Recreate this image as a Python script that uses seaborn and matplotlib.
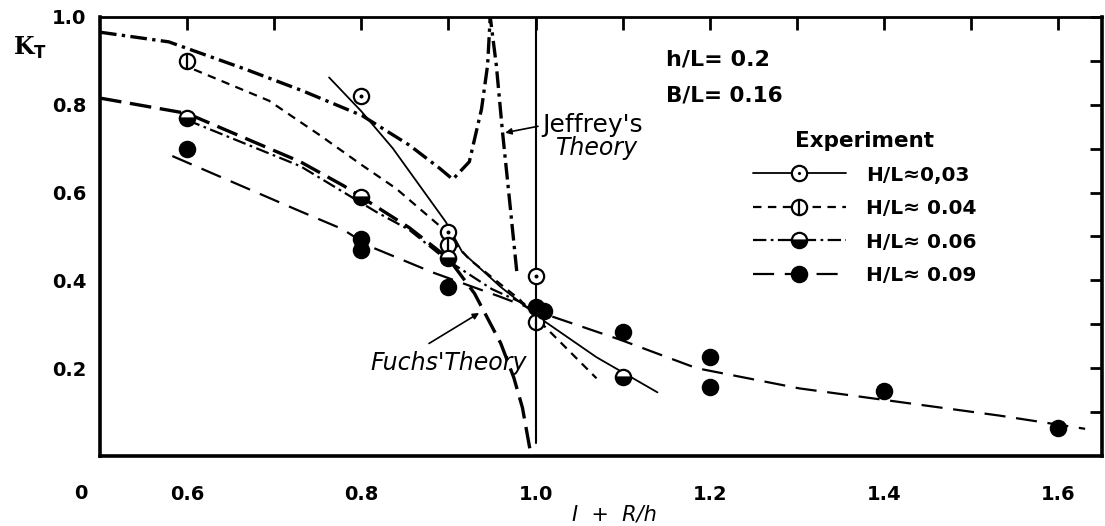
import matplotlib
matplotlib.use("Agg")
import matplotlib.pyplot as plt
from matplotlib.lines import Line2D
from matplotlib.legend_handler import HandlerTuple
import seaborn as sns
import pandas as pd

sns.set_style("white")
plt.rcParams['font.family'] = ['DejaVu Sans']
plt.rcParams.update({"text.color": "black", "axes.labelcolor": "black",
                     "xtick.color": "black", "ytick.color": "black"})

# ---------------- data ----------------
# experimental points
x03 = [0.8, 0.9, 1.0]
y03 = [0.82, 0.51, 0.41]
x04 = [0.6, 0.9, 1.0]
y04 = [0.90, 0.48, 0.305]
x06 = [0.6, 0.8, 0.9, 1.1]
y06 = [0.77, 0.59, 0.45, 0.18]
x09 = [0.6, 0.8, 0.8, 0.9, 1.0, 1.01, 1.1, 1.2, 1.2, 1.4, 1.6]
y09 = [0.70, 0.495, 0.47, 0.385, 0.34, 0.33, 0.283, 0.225, 0.157, 0.149, 0.064]

# hand-drawn fit curves
c03_x = [0.763, 0.80, 0.836, 0.897, 0.916, 0.96, 1.008, 1.07, 1.14]
c03_y = [0.862, 0.785, 0.701, 0.533, 0.464, 0.385, 0.31, 0.225, 0.145]
c04_x = [0.608, 0.694, 0.752, 0.801, 0.84, 0.89, 0.924, 0.982, 1.008, 1.07]
c04_y = [0.88, 0.809, 0.731, 0.662, 0.609, 0.524, 0.448, 0.356, 0.30, 0.177]
c06_x = [0.60, 0.73, 0.817, 0.855, 0.897, 0.95, 1.0]
c06_y = [0.765, 0.66, 0.556, 0.515, 0.448, 0.38, 0.335]
c09_x = [0.583, 0.729, 0.778, 0.809, 0.882, 0.959, 1.02, 1.097, 1.185, 1.303, 1.407, 1.533, 1.631]
c09_y = [0.683, 0.558, 0.517, 0.478, 0.418, 0.363, 0.317, 0.265, 0.20, 0.154, 0.126, 0.092, 0.062]

# theories
jef_x = [0.50, 0.579, 0.668, 0.732, 0.801, 0.855, 0.890, 0.905, 0.924, 0.938, 0.945, 0.948, 0.955, 0.962, 0.970, 0.979]
jef_y = [0.965, 0.943, 0.88, 0.832, 0.775, 0.708, 0.655, 0.63, 0.67, 0.79, 0.89, 1.0, 0.89, 0.74, 0.586, 0.41]
fuc_x = [0.50, 0.60, 0.73, 0.78, 0.855, 0.90, 0.93, 0.96, 0.975, 0.985, 0.995]
fuc_y = [0.815, 0.78, 0.67, 0.615, 0.52, 0.45, 0.37, 0.257, 0.179, 0.11, 0.0]

x_ticklabels = ["0.6", "", "0.8", "", "1.0", "", "1.2", "", "1.4", "", "1.6"]
y_ticklabels = ["", "0.2", "", "0.4", "", "0.6", "", "0.8", "", "1.0"]
labels = ["H/L\u22480,03", "H/L\u2248 0.04", "H/L\u2248 0.06", "H/L\u2248 0.09"]

# ---------------- figure ----------------
fig = plt.figure(figsize=(11.05, 5.26), dpi=100)
ax = fig.add_axes([0.0905, 0.133, 0.9065, 0.835])

K = "black"

def curve(x, y, lw, ls):
    sns.lineplot(x=x, y=y, ax=ax, sort=False, estimator=None, color=K,
                 lw=lw, linestyle=ls)

curve(jef_x, jef_y, 2.4, (0, (5, 1.6, 1.0, 1.6)))
curve(fuc_x, fuc_y, 2.4, (0, (6.5, 2.6)))
curve(c03_x, c03_y, 1.3, "-")
curve(c04_x, c04_y, 1.6, (0, (3.8, 2.9)))
curve(c06_x, c06_y, 1.6, (0, (6, 2, 1.2, 2)))
curve(c09_x, c09_y, 1.6, (0, (9.5, 4.8)))

ax.axvline(1.0, ymin=0.03, ymax=1.0, color=K, lw=1.5)

ms = 11
mew = 1.6

def pts(x, y, size=ms, **kw):
    sns.lineplot(x=x, y=y, ax=ax, sort=False, estimator=None, linestyle="",
                 color=K, markersize=size, markeredgewidth=mew,
                 markeredgecolor=K, **kw)

pts(x03, y03, marker="o", markerfacecolor="white")
pts(x03, y03, size=2.5, marker=".", markerfacecolor=K)
pts(x04, y04, marker="o", markerfacecolor="white")
pts(x04, y04, marker="|")
pts(x06, y06, marker="o", fillstyle="bottom", markerfacecolor=K,
    markerfacecoloralt="white")
pts(x09, y09, marker="o", markerfacecolor=K)

# ---------------- axes styling ----------------
ax.set_xlim(0.5, 1.65)
ax.set_ylim(0.0, 1.0)
ax.set_xticks([0.6 + 0.1 * i for i in range(11)])
ax.set_xticklabels(x_ticklabels)
ax.set_yticks([0.1 * i for i in range(1, 11)])
ax.set_yticklabels(y_ticklabels)
ax.tick_params(axis="both", direction="in", length=9, width=2, top=True,
               right=True, colors=K)
ax.tick_params(axis="x", pad=21, labelsize=14)
ax.tick_params(axis="y", pad=10, labelsize=14)
for t in ax.get_xticklabels() + ax.get_yticklabels():
    t.set_fontweight("bold")
for s in ["left", "bottom", "right"]:
    ax.spines[s].set_linewidth(2.6)
ax.spines["top"].set_linewidth(2.0)
for s in ax.spines.values():
    s.set_color(K)

ax.set_xlabel("I  +  R/h", fontsize=15, style="italic")
ax.xaxis.set_label_coords(0.514, -0.11)
ax.set_ylabel("K$_\\mathbf{T}$", fontsize=17, fontweight="bold",
              family="DejaVu Serif", rotation=0)
ax.yaxis.set_label_coords(-0.07, 0.90)
ax.text(-0.012, -0.085, "0", transform=ax.transAxes, fontsize=14,
        fontweight="bold", ha="right", va="center")

# ---------------- annotations ----------------
ax.text(1.15, 0.903, "h/L= 0.2", fontsize=16, fontweight="bold", va="center")
ax.text(1.15, 0.820, "B/L= 0.16", fontsize=15.5, fontweight="bold", va="center")
ax.text(1.008, 0.754, "Jeffrey's", fontsize=18, va="center")
ax.text(1.024, 0.701, "Theory", fontsize=17, style="italic", va="center")
ax.annotate("", xy=(0.962, 0.735), xytext=(1.006, 0.752),
            arrowprops=dict(arrowstyle="-|>", lw=1.2, color=K, mutation_scale=9))
ax.text(0.90, 0.211, "Fuchs'Theory", fontsize=17, style="italic",
        ha="center", va="center")
ax.annotate("", xy=(0.938, 0.329), xytext=(0.875, 0.253),
            arrowprops=dict(arrowstyle="-|>", lw=1.2, color=K, mutation_scale=9))

# ---------------- legend ----------------
h03 = (Line2D([], [], color=K, lw=1.3, ls="-", marker="o", ms=ms, mew=mew,
              mfc="white", mec=K),
       Line2D([], [], ls="", marker=".", ms=2.5, color=K))
h04 = (Line2D([], [], color=K, lw=1.6, ls=(0, (3.8, 2.9)), marker="o", ms=ms,
              mew=mew, mfc="white", mec=K),
       Line2D([], [], ls="", marker="|", ms=ms, mew=mew, color=K))
h06 = Line2D([], [], color=K, lw=1.6, ls=(0, (6, 2, 1.2, 2)), marker="o", ms=ms,
             mew=mew, fillstyle="bottom", mfc=K, mfcalt="white", mec=K)
h09 = Line2D([], [], color=K, lw=1.6, ls=(0, (9.5, 4.8)), marker="o", ms=ms,
             mew=mew, mfc=K, mec=K)
leg = ax.legend([h03, h04, h06, h09], labels, title="Experiment",
                handler_map={tuple: HandlerTuple(ndivide=1, pad=0)},
                loc="upper left", bbox_to_anchor=(0.652, 0.740), frameon=False,
                borderpad=0, borderaxespad=0, handlelength=4.6,
                handletextpad=1.0, labelspacing=0.72,
                prop={"size": 14.5, "weight": "bold"},
                title_fontproperties={"size": 15.5, "weight": "bold"})

fig.savefig("out.png", dpi=100)
